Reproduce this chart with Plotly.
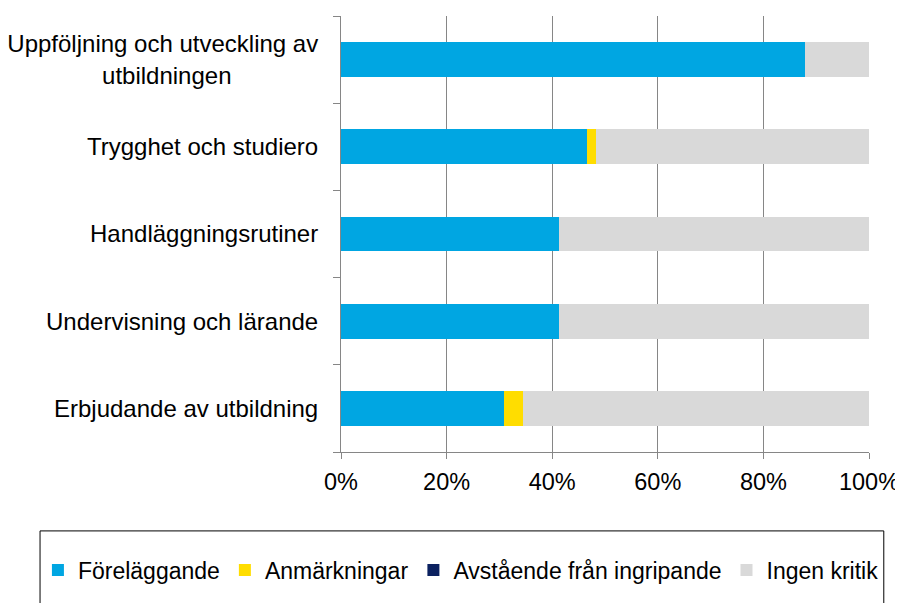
import plotly.graph_objects as go

categories = [
    "Uppföljning och utveckling av<br>utbildningen" + "\u00a0" * 13,
    "Trygghet och studiero",
    "Handläggningsrutiner",
    "Undervisning och lärande",
    "Erbjudande av utbildning",
]
series_names = ["Föreläggande", "Anmärkningar", "Avstående från ingripande", "Ingen kritik"]
forelaggande = [0.879, 0.465, 0.413, 0.413, 0.309]
anmarkningar = [0.0, 0.017, 0.0, 0.0, 0.035]
avstaende = [0.0, 0.0, 0.0, 0.0, 0.0]
ingen_kritik = [round(1 - a - b - c, 3) for a, b, c in zip(forelaggande, anmarkningar, avstaende)]
colors = ["#00A6E2", "#FFDD00", "#0B2160", "#D9D9D9"]
x_ticks = [0, 0.2, 0.4, 0.6, 0.8, 1.0]

FONT = "Liberation Sans, Arial, sans-serif"
FS_CAT = 24
FS_TICK = 23.5
FS_LEG = 23

fig = go.Figure()
for name, vals, col in zip(series_names, [forelaggande, anmarkningar, avstaende, ingen_kritik], colors):
    fig.add_trace(go.Bar(
        y=categories, x=vals, name=name, orientation="h",
        marker=dict(color=col, line=dict(width=0)),
        hoverinfo="x+name",
    ))

# page body has an 8px offset, so the figure geometry is shifted by -8px
fig.update_layout(
    barmode="stack",
    bargap=0.6,
    width=903, height=603,
    margin=dict(l=333, r=42, t=8, b=159, pad=0, autoexpand=False),
    paper_bgcolor="white", plot_bgcolor="white",
    font=dict(family=FONT, size=FS_TICK, color="black"),
    showlegend=True,
    legend=dict(
        orientation="h", xref="paper", yref="paper",
        x=-0.574, xanchor="left", y=-0.2706, yanchor="middle",
        font=dict(family=FONT, size=FS_LEG, color="black"),
        bgcolor="rgba(0,0,0,0)", borderwidth=0,
        itemwidth=30, traceorder="normal",
    ),
    xaxis=dict(
        range=[0, 1], tickvals=x_ticks, tickformat=".0%",
        showgrid=True, gridcolor="#868686", gridwidth=1,
        showline=True, linecolor="#868686", linewidth=1,
        ticks="outside", ticklen=6, tickcolor="#868686",
        ticklabelstandoff=3,
        zeroline=False, fixedrange=True, automargin=False,
        tickfont=dict(family=FONT, size=FS_TICK, color="black"),
    ),
    yaxis=dict(
        categoryorder="array", categoryarray=categories[::-1],
        showline=True, linecolor="#868686", linewidth=1,
        ticks="outside", ticklen=7, tickcolor="#868686", tickson="boundaries",
        ticklabelstandoff=17,
        showgrid=False, zeroline=False, fixedrange=True, automargin=False,
        tickfont=dict(family=FONT, size=FS_CAT, color="black"),
    ),
    shapes=[dict(
        type="rect", xref="paper", yref="paper",
        x0=-0.570, x1=1.028, y0=-0.181, y1=-0.40,
        line=dict(color="black", width=1), fillcolor="rgba(0,0,0,0)", layer="above",
    )],
)

fig.write_html("out.html")
